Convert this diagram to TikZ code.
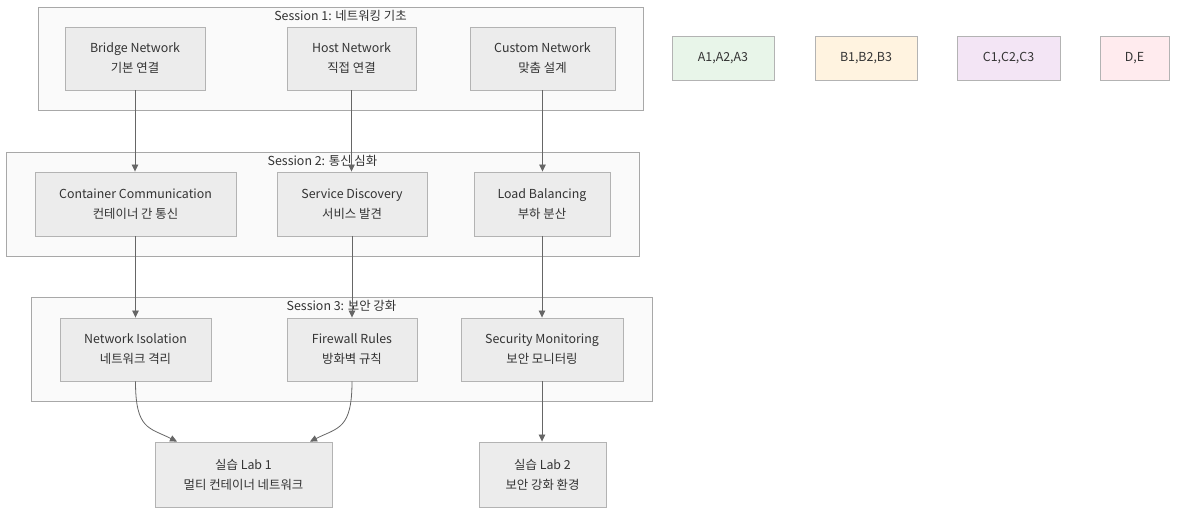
\documentclass[tikz,border=0pt]{standalone}
\usepackage{fontspec}
\setmainfont{Noto Sans CJK KR}
\usetikzlibrary{arrows.meta}
\definecolor{nodefill}{HTML}{ECECEC}
\definecolor{nodedraw}{HTML}{B3B3B3}
\definecolor{clfill}{HTML}{FAFAFA}
\definecolor{cldraw}{HTML}{A8A8A8}
\definecolor{edgec}{HTML}{666666}
\definecolor{textc}{HTML}{333333}
\definecolor{lgA}{HTML}{E8F5E9}
\definecolor{lgB}{HTML}{FFF3E0}
\definecolor{lgC}{HTML}{F3E5F5}
\definecolor{lgD}{HTML}{FFEBEE}
\begin{document}
\begin{tikzpicture}[x=1pt,y=-1pt,
  every node/.style={font=\fontsize{12.4}{20}\selectfont, text=textc},
  box/.style={draw=nodedraw, fill=nodefill, line width=0.9pt, align=center, inner sep=0pt},
  legend/.style={draw=nodedraw, line width=0.9pt, align=center, inner sep=0pt, minimum height=44},
  cluster/.style={draw=cldraw, fill=clfill, line width=0.9pt, inner sep=0pt},
  arr/.style={draw=edgec, line width=0.8pt, -{Triangle[length=7pt,width=6.5pt]}}]
\useasboundingbox (0,0) rectangle (1184,517);
\fill[white] (0,0) rectangle (1184,517);
% clusters
\node[cluster, minimum width=605, minimum height=103] (s1) at (340.5,58.5) {};
\node (s1t) at (340.5,16) {Session 1: 네트워킹 기초};
\node[cluster, minimum width=633, minimum height=104] (s2) at (322.5,204) {};
\node (s2t) at (322.5,161) {Session 2: 통신 심화};
\node[cluster, minimum width=621, minimum height=104] (s3) at (341.5,349) {};
\node (s3t) at (341.5,306) {Session 3: 보안 강화};
% session 1
\node[box, minimum width=140, minimum height=63] (bridge) at (135,58.5) {Bridge Network\\기본 연결};
\node[box, minimum width=129, minimum height=63] (host) at (351.5,58.5) {Host Network\\직접 연결};
\node[box, minimum width=145, minimum height=63] (custom) at (542.5,58.5) {Custom Network\\맞춤 설계};
% session 2
\node[box, minimum width=201, minimum height=64] (cc) at (135.5,204) {Container Communication\\컨테이너 간 통신};
\node[box, minimum width=150, minimum height=64] (sd) at (352,204) {Service Discovery\\서비스 발견};
\node[box, minimum width=136, minimum height=64] (lbal) at (542,204) {Load Balancing\\부하 분산};
% session 3
\node[box, minimum width=151, minimum height=63] (ni) at (135.5,349.5) {Network Isolation\\네트워크 격리};
\node[box, minimum width=130, minimum height=63] (fw) at (352,349.5) {Firewall Rules\\방화벽 규칙};
\node[box, minimum width=162, minimum height=63] (sm) at (542,349.5) {Security Monitoring\\보안 모니터링};
% labs
\node[box, minimum width=177, minimum height=65] (lab1) at (243.5,474.5) {실습 Lab 1\\멀티 컨테이너 네트워크};
\node[box, minimum width=127, minimum height=65] (lab2) at (542.5,474.5) {실습 Lab 2\\보안 강화 환경};
% legend
\node[legend, fill=lgA, minimum width=102] (la) at (723,58) {A1,A2,A3};
\node[legend, fill=lgB, minimum width=102] (lb) at (866,58) {B1,B2,B3};
\node[legend, fill=lgC, minimum width=103] (lc) at (1008.5,58) {C1,C2,C3};
\node[legend, fill=lgD, minimum width=69] (ld) at (1134.5,58) {D,E};
% edges
\draw[arr] (bridge.south) -- (bridge.south |- cc.north);
\draw[arr] (host.south) -- (host.south |- sd.north);
\draw[arr] (custom.south) -- (custom.south |- lbal.north);
\draw[arr] (cc.south) -- (cc.south |- ni.north);
\draw[arr] (sd.south) -- (sd.south |- fw.north);
\draw[arr] (lbal.south) -- (lbal.south |- sm.north);
\draw[arr] (ni.south) .. controls ++(0,48) and ++(-28,-14) .. ([xshift=-66.5]lab1.north);
\draw[arr] (fw.south) .. controls ++(0,48) and ++(28,-14) .. ([xshift=66.5]lab1.north);
\draw[arr] (sm.south) -- (sm.south |- lab2.north);
\end{tikzpicture}
\end{document}
